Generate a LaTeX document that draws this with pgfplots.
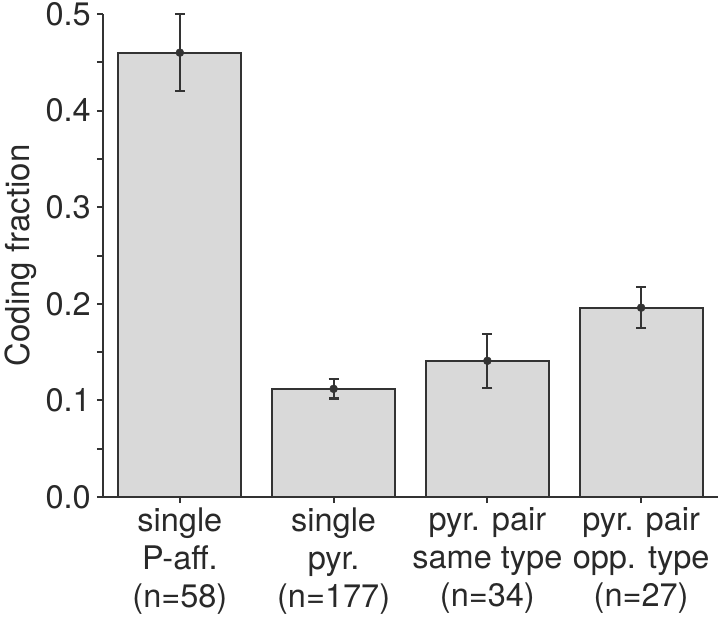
\documentclass[border=0pt]{standalone}
\usepackage{pgfplots}
\pgfplotsset{compat=1.18}
\usepackage{fontspec}
\setmainfont{TeX Gyre Heros}
\definecolor{barfill}{HTML}{D9D9D9}
\definecolor{edge}{HTML}{333333}
\begin{document}
\begin{tikzpicture}
\begin{axis}[
  scale only axis,
  width=615pt, height=483pt,
  xmin=-0.5, xmax=3.5,
  ymin=0, ymax=0.5,
  axis x line*=bottom, axis y line*=left,
  axis line style={-, line width=2.2pt, draw=edge},
  xtick={0,1,2,3},
  xticklabels={{single\\P-aff.\\(n=58)},{single\\pyr.\\(n=177)},{pyr. pair\\same type\\(n=34)},{pyr. pair\\opp. type\\(n=27)}},
  ytick={0,0.1,0.2,0.3,0.4,0.5},
  minor ytick={0.05,0.15,0.25,0.35,0.45},
  tick align=outside,
  major tick length=6pt, minor tick length=6pt,
  tick style={line width=2pt, draw=edge},
  /pgf/number format/assume math mode=true,
  yticklabel={\pgfmathprintnumber[fixed,fixed zerofill,precision=1]{\tick}},
  ticklabel style={font=\fontsize{32.5}{38}\selectfont, text=edge!80!black},
  yticklabel style={inner sep=0pt, xshift=-6pt},
  xticklabel style={align=center, yshift=-1pt},
  ylabel={Coding fraction},
  ylabel style={font=\fontsize{33}{38}\selectfont, text=edge!80!black, at={(axis description cs:-0.1203,0.5)}, anchor=base},
  clip=false,
]
\addplot[ybar, bar width=0.8, fill=barfill, draw=edge, line width=2.2pt]
  coordinates {(0,0.460) (1,0.112) (2,0.141) (3,0.196)};
\addplot[only marks, mark=*, mark size=4pt, color=edge,
  error bars/.cd, y dir=both, y explicit,
  error bar style={line width=2.2pt, draw=edge},
  error mark options={rotate=90, mark size=5pt, line width=2.2pt, draw=edge}]
  coordinates {(0,0.460) +- (0,0.040) (1,0.112) +- (0,0.010) (2,0.141) +- (0,0.028) (3,0.196) +- (0,0.021)};
\end{axis}
\pgfresetboundingbox
\useasboundingbox ([shift={(-103pt,-119pt)}]current axis.south west) rectangle ++(720pt,616pt);
\end{tikzpicture}
\end{document}
